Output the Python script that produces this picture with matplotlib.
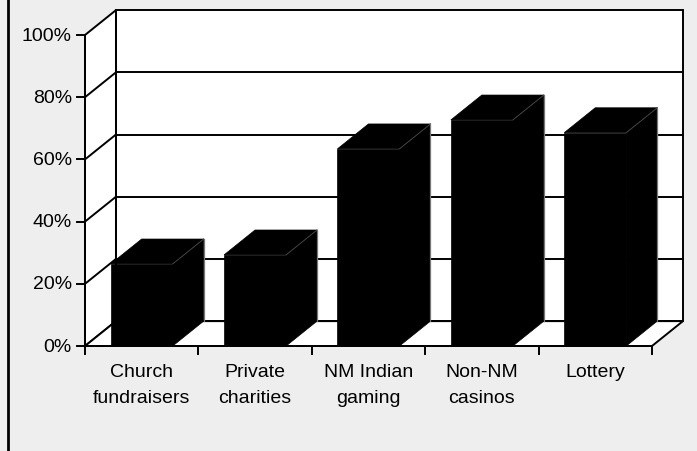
import matplotlib.pyplot as plt
from matplotlib.patches import Polygon

categories = ["Church\nfundraisers", "Private\ncharities", "NM Indian\ngaming",
              "Non-NM\ncasinos", "Lottery"]
values = [26.4, 29.3, 63.4, 72.7, 68.6]
yticks = [0, 20, 40, 60, 80, 100]
ytick_labels = ["0%", "20%", "40%", "60%", "80%", "100%"]

BG = "#eeeeee"
DX = 0.273   # depth offset in category units
DY = 8.0     # depth offset in percent units
BAR_W = 0.547
n = len(categories)

fig = plt.figure(figsize=(6.97, 4.52), dpi=100)
fig.patch.set_facecolor(BG)
ax = fig.add_axes([0, 0, 1, 1])
ax.set_xlim(-0.7496, 5.397)
ax.set_ylim(-33.76, 111.58)
ax.axis("off")

lw = 1.4

def poly(pts, fc, ec="black", z=1, lw=lw):
    ax.add_patch(Polygon(pts, closed=True, facecolor=fc, edgecolor=ec,
                         linewidth=lw, zorder=z, joinstyle="miter"))

# walls and floor
poly([(DX, DY), (DX, 100 + DY), (n + DX, 100 + DY), (n + DX, DY)], "white")
poly([(0, 0), (0, 100), (DX, 100 + DY), (DX, DY)], "white")
poly([(0, 0), (n, 0), (n + DX, DY), (DX, DY)], "white")

# gridlines on back and side walls
for t in yticks[1:-1]:
    ax.plot([DX, n + DX], [t + DY, t + DY], color="black", lw=lw, zorder=2)
    ax.plot([0, DX], [t, t + DY], color="black", lw=lw, zorder=2)

# bars: solid black faces, only a couple of edges show a faint grey
for i, v in enumerate(values):
    c = i + 0.5
    l, r = c - BAR_W / 2, c + BAR_W / 2
    poly([(r, 0), (r + DX, DY), (r + DX, v + DY), (r, v)], "black", "black", 3, 0.5)
    poly([(l, v), (l + DX, v + DY), (r + DX, v + DY), (r, v)], "black", "black", 3, 0.5)
    poly([(l, 0), (r, 0), (r, v), (l, v)], "black", "black", 4, 0.5)
    ax.plot([r, r + DX], [v, v + DY], color="#444444", lw=0.7, zorder=5)
    ax.plot([r + DX, r + DX], [DY, v + DY], color="#777777", lw=0.9, zorder=5)

# front axes lines
ax.plot([0, 0], [0, 100], color="black", lw=lw, zorder=5)
ax.plot([0, n], [0, 0], color="black", lw=lw, zorder=5)

# y ticks and labels
for t, lab in zip(yticks, ytick_labels):
    ax.plot([-0.07, 0], [t, t], color="black", lw=lw, zorder=5)
    ax.text(-0.115, t, lab, ha="right", va="center", fontsize=14,
            family="Liberation Sans", color="black")

# x ticks and labels
for i in range(n + 1):
    ax.plot([i, i], [0, -2.6], color="black", lw=lw, zorder=5)
for i, lab in enumerate(categories):
    ax.text(i + 0.5, -5.4, lab, ha="center", va="top", fontsize=14,
            family="Liberation Sans", color="black", linespacing=1.7)

# chart border on the left
ax.plot([-0.677, -0.677], [-40, 120], color="black", lw=2, clip_on=False)

fig.savefig("out.png", dpi=100, facecolor=BG)
